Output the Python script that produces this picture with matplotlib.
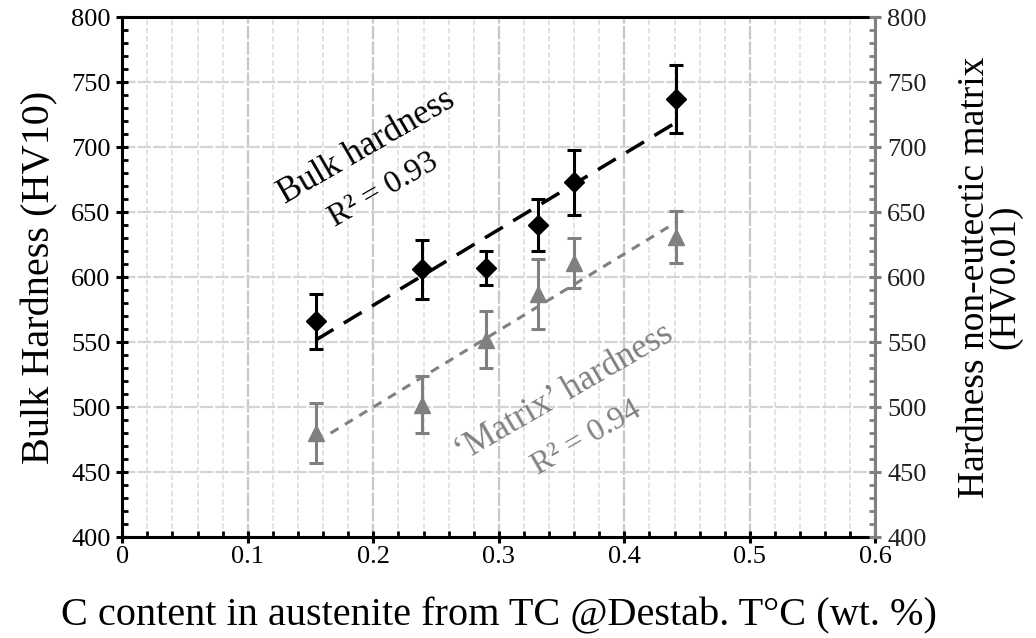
import numpy as np
import matplotlib
matplotlib.use("Agg")
import matplotlib.pyplot as plt
from matplotlib.ticker import MultipleLocator

plt.rcParams['font.family'] = ['Liberation Serif', 'DejaVu Serif']
plt.rcParams['mathtext.fontset'] = 'stix'

# C content in austenite (wt. %)
c_content = [0.154, 0.239, 0.290, 0.331, 0.360, 0.441]

# bulk hardness HV10 with error
bulk_hv = [566, 606, 607, 640, 673, 737]
bulk_err = [21, 23, 13, 20, 25, 26]

# non-eutectic matrix hardness HV0.01 with error
matrix_hv = [480, 502, 552, 587, 611, 631]
matrix_err = [23, 22, 22, 27, 19, 20]

black = '#000000'
grey = '#808080'

fig, ax = plt.subplots(figsize=(10.36, 6.38), dpi=100)
fig.subplots_adjust(left=0.118, right=0.845, top=0.973, bottom=0.158)

ax.set_xlim(0, 0.6)
ax.set_ylim(400, 800)
ax.xaxis.set_major_locator(MultipleLocator(0.1))
ax.xaxis.set_minor_locator(MultipleLocator(0.02))
ax.yaxis.set_major_locator(MultipleLocator(50))
ax.yaxis.set_minor_locator(MultipleLocator(10))
ax.set_xticks(np.arange(0, 0.61, 0.1))
ax.set_xticklabels(['0', '0.1', '0.2', '0.3', '0.4', '0.5', '0.6'])

# grid
ax.grid(which='major', axis='x', color='#c8c8c8', lw=1.6, ls=(0, (6, 1)))
ax.grid(which='major', axis='y', color='#d4d4d4', lw=1.6, ls=(0, (6, 1)))
ax.xaxis.grid(True, which='minor', color='#e0e0e0', lw=1.3, ls=(0, (3, 1.5)))
ax.set_axisbelow(True)

for s in ['left', 'bottom', 'top']:
    ax.spines[s].set_linewidth(2.2)
    ax.spines[s].set_color(black)
ax.spines['right'].set_visible(False)

ax.tick_params(which='major', direction='inout', length=9, width=2.2,
               labelsize=19, colors=black, pad=4)
ax.tick_params(which='minor', direction='in', length=4.5, width=2)
ax.tick_params(axis='x', which='both', top=False)
ax.tick_params(axis='y', which='both', right=False)
ax.tick_params(axis='x', which='major', pad=2)

ax.set_ylabel('Bulk Hardness (HV10)', fontsize=29, labelpad=9)
ax.set_xlabel('C content in austenite from TC @Destab. T°C (wt. %)', fontsize=29, labelpad=21)

# bulk hardness + linear fit
ax.errorbar(c_content, bulk_hv, yerr=bulk_err, fmt='D', color=black, ms=10,
            elinewidth=2.2, capsize=5, capthick=2.2, zorder=5)
k, b = np.polyfit(c_content, bulk_hv, 1)
xf = np.array([c_content[0], c_content[-1]])
ax.plot(xf, k * xf + b, color=black, lw=2.5, ls=(0, (6, 3.5)), zorder=4)

# right axis for matrix hardness
ax2 = ax.twinx()
ax2.set_ylim(400, 800)
ax2.yaxis.set_major_locator(MultipleLocator(50))
ax2.yaxis.set_minor_locator(MultipleLocator(10))
for s in ['left', 'bottom', 'top']:
    ax2.spines[s].set_visible(False)
ax2.spines['right'].set_color(grey)
ax2.spines['right'].set_linewidth(2.2)
ax2.tick_params(which='major', direction='inout', length=9, width=2.2,
                color=grey, labelcolor='#202020', labelsize=19, pad=4)
ax2.tick_params(which='minor', direction='in', length=4.5, width=2, color=grey)
ax2.set_ylabel('Hardness non-eutectic matrix\n(HV0.01)', fontsize=27,
               labelpad=22, linespacing=0.85, rotation=90)

ax2.errorbar(c_content, matrix_hv, yerr=matrix_err, fmt='^', color=grey, ms=12,
             elinewidth=2.2, capsize=5, capthick=2.2, zorder=5)
k2, b2 = np.polyfit(c_content, matrix_hv, 1)
xf2 = np.array([c_content[0] + 0.012, c_content[-1]])
ax2.plot(xf2, k2 * xf2 + b2, color=grey, lw=2.2, ls=(0, (3, 2.5)), zorder=4)

# annotations
ax.text(0.195, 700, 'Bulk hardness', rotation=30, fontsize=25, color=black,
        ha='center', va='center', rotation_mode='anchor')
ax.text(0.208, 667, 'R² = 0.93', rotation=30, fontsize=23, color=black,
        ha='center', va='center', rotation_mode='anchor')
ax2.text(0.352, 511, '\u2018Matrix\u2019 hardness', rotation=30, fontsize=25, color=grey,
         ha='center', va='center', rotation_mode='anchor')
ax2.text(0.37, 476, 'R² = 0.94', rotation=30, fontsize=23, color=grey,
         ha='center', va='center', rotation_mode='anchor')

fig.savefig('out.png', dpi=100)
